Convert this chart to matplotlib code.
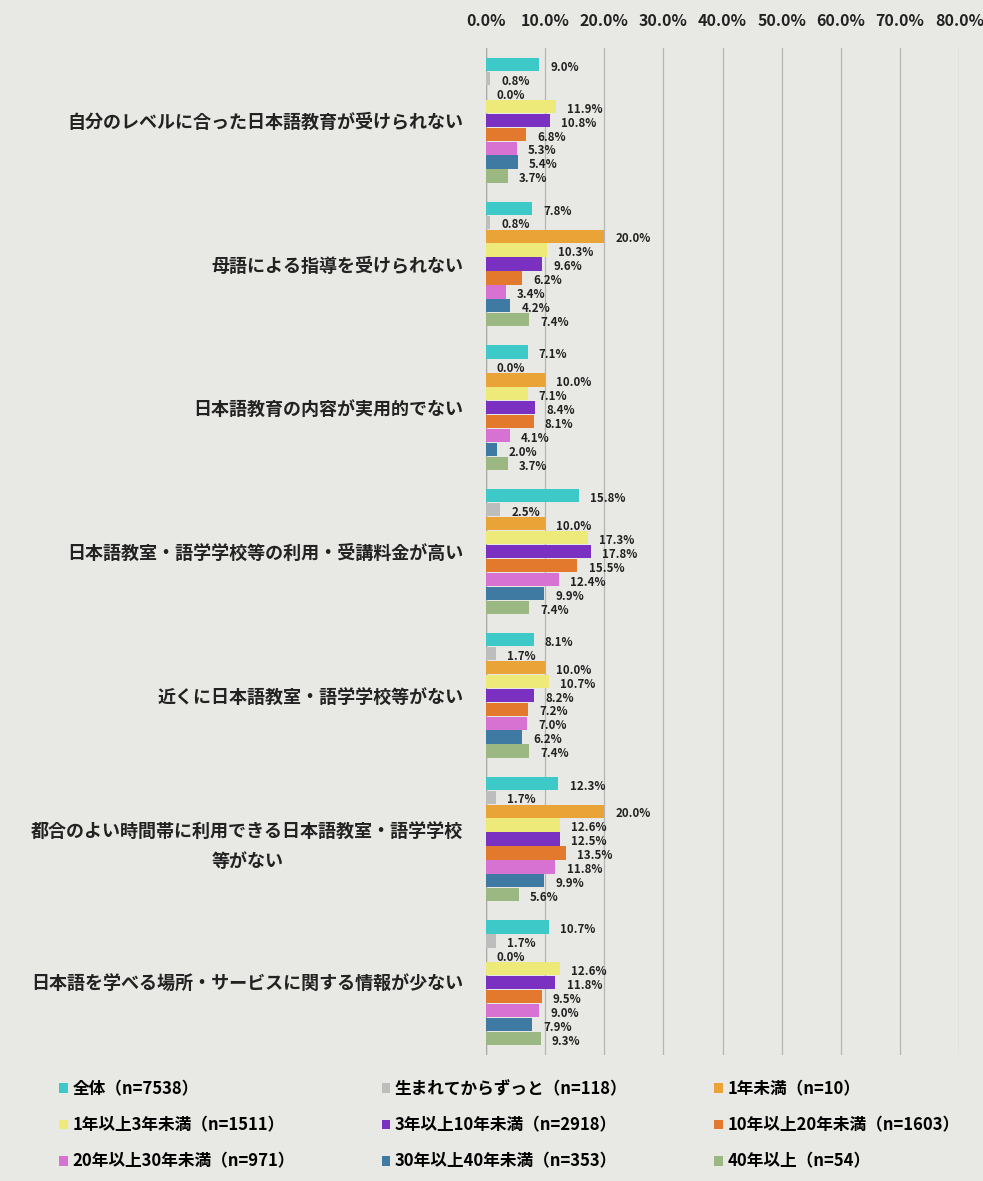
import matplotlib.pyplot as plt
import numpy as np

plt.rcParams['font.family'] = ['Noto Sans CJK JP', 'DejaVu Sans']

# ---------- data ----------
categories = [
    "自分のレベルに合った日本語教育が受けられない",
    "母語による指導を受けられない",
    "日本語教育の内容が実用的でない",
    "日本語教室・語学学校等の利用・受講料金が高い",
    "近くに日本語教室・語学学校等がない",
    "都合のよい時間帯に利用できる日本語教室・語学学校\n等がない",
    "日本語を学べる場所・サービスに関する情報が少ない",
]
series_names = [
    "全体（n=7538）",
    "生まれてからずっと（n=118）",
    "1年未満（n=10）",
    "1年以上3年未満（n=1511）",
    "3年以上10年未満（n=2918）",
    "10年以上20年未満（n=1603）",
    "20年以上30年未満（n=971）",
    "30年以上40年未満（n=353）",
    "40年以上（n=54）",
]
# values per series, one value per category (%)
zentai = [9.0, 7.8, 7.1, 15.8, 8.1, 12.3, 10.7]
umarete = [0.8, 0.8, 0.0, 2.5, 1.7, 1.7, 1.7]
y_lt1 = [0.0, 20.0, 10.0, 10.0, 10.0, 20.0, 0.0]
y_1_3 = [11.9, 10.3, 7.1, 17.3, 10.7, 12.6, 12.6]
y_3_10 = [10.8, 9.6, 8.4, 17.8, 8.2, 12.5, 11.8]
y_10_20 = [6.8, 6.2, 8.1, 15.5, 7.2, 13.5, 9.5]
y_20_30 = [5.3, 3.4, 4.1, 12.4, 7.0, 11.8, 9.0]
y_30_40 = [5.4, 4.2, 2.0, 9.9, 6.2, 9.9, 7.9]
y_40 = [3.7, 7.4, 3.7, 7.4, 7.4, 5.6, 9.3]
values = [zentai, umarete, y_lt1, y_1_3, y_3_10, y_10_20, y_20_30, y_30_40, y_40]

colors = ["#3ec9c9", "#bdbdbd", "#eaa337", "#eeea7a", "#7a30c0",
          "#e2792c", "#d872d2", "#3f7aa2", "#9cb882"]
xticks = [0, 10, 20, 30, 40, 50, 60, 70, 80]

# ---------- plot ----------
bg = "#e8e8e5"
fig = plt.figure(figsize=(9.83, 11.81), dpi=100, facecolor=bg)
ax = fig.add_axes([0.494, 0.107, 0.482, 0.852], facecolor=bg)

n = len(values)
h = 0.097
y = np.arange(len(categories))
for i, (vals, c, name) in enumerate(zip(values, colors, series_names)):
    pos = y - (n - 1) / 2 * h + i * h
    bars = ax.barh(pos, vals, height=h * 0.95, color=c, label=name, zorder=3)
    for b, v in zip(bars, vals):
        ax.annotate(f"{v:.1f}%", (v, b.get_y() + b.get_height() / 2),
                    xytext=(8, -2), textcoords="offset points",
                    ha="left", va="center", fontsize=8.3, fontweight="bold",
                    color="#222222", zorder=4)

ax.set_xlim(0, 80)
ax.set_ylim(len(categories) - 0.5, -0.5)
ax.set_xticks(xticks)
ax.set_xticklabels([f"{t:.1f}%" for t in xticks], fontsize=11.5, fontweight="bold")
ax.xaxis.tick_top()
ax.tick_params(axis="x", length=0, pad=14, colors="#222222")
ax.set_yticks(y)
ax.set_yticklabels(categories, fontsize=13, fontweight="bold",
                   multialignment="center", linespacing=1.75)
ax.tick_params(axis="y", length=0, pad=16, colors="#222222")
ax.grid(axis="x", color="#b5b5b5", linewidth=0.9, zorder=0)
for s in ax.spines.values():
    s.set_visible(False)
ax.axvline(0, color="#a8a8a8", linewidth=1.0, zorder=2)

handles, labels = ax.get_legend_handles_labels()
order = [0, 3, 6, 1, 4, 7, 2, 5, 8]
leg = fig.legend([handles[k] for k in order], [labels[k] for k in order],
                 loc="lower left", bbox_to_anchor=(0.045, -0.004), ncol=3,
                 frameon=False, handlelength=0.5, handleheight=0.5,
                 handletextpad=0.3, columnspacing=5.2, labelspacing=1.1,
                 prop={"weight": "bold", "size": 12})

fig.savefig("out.png", dpi=100, facecolor=bg)
